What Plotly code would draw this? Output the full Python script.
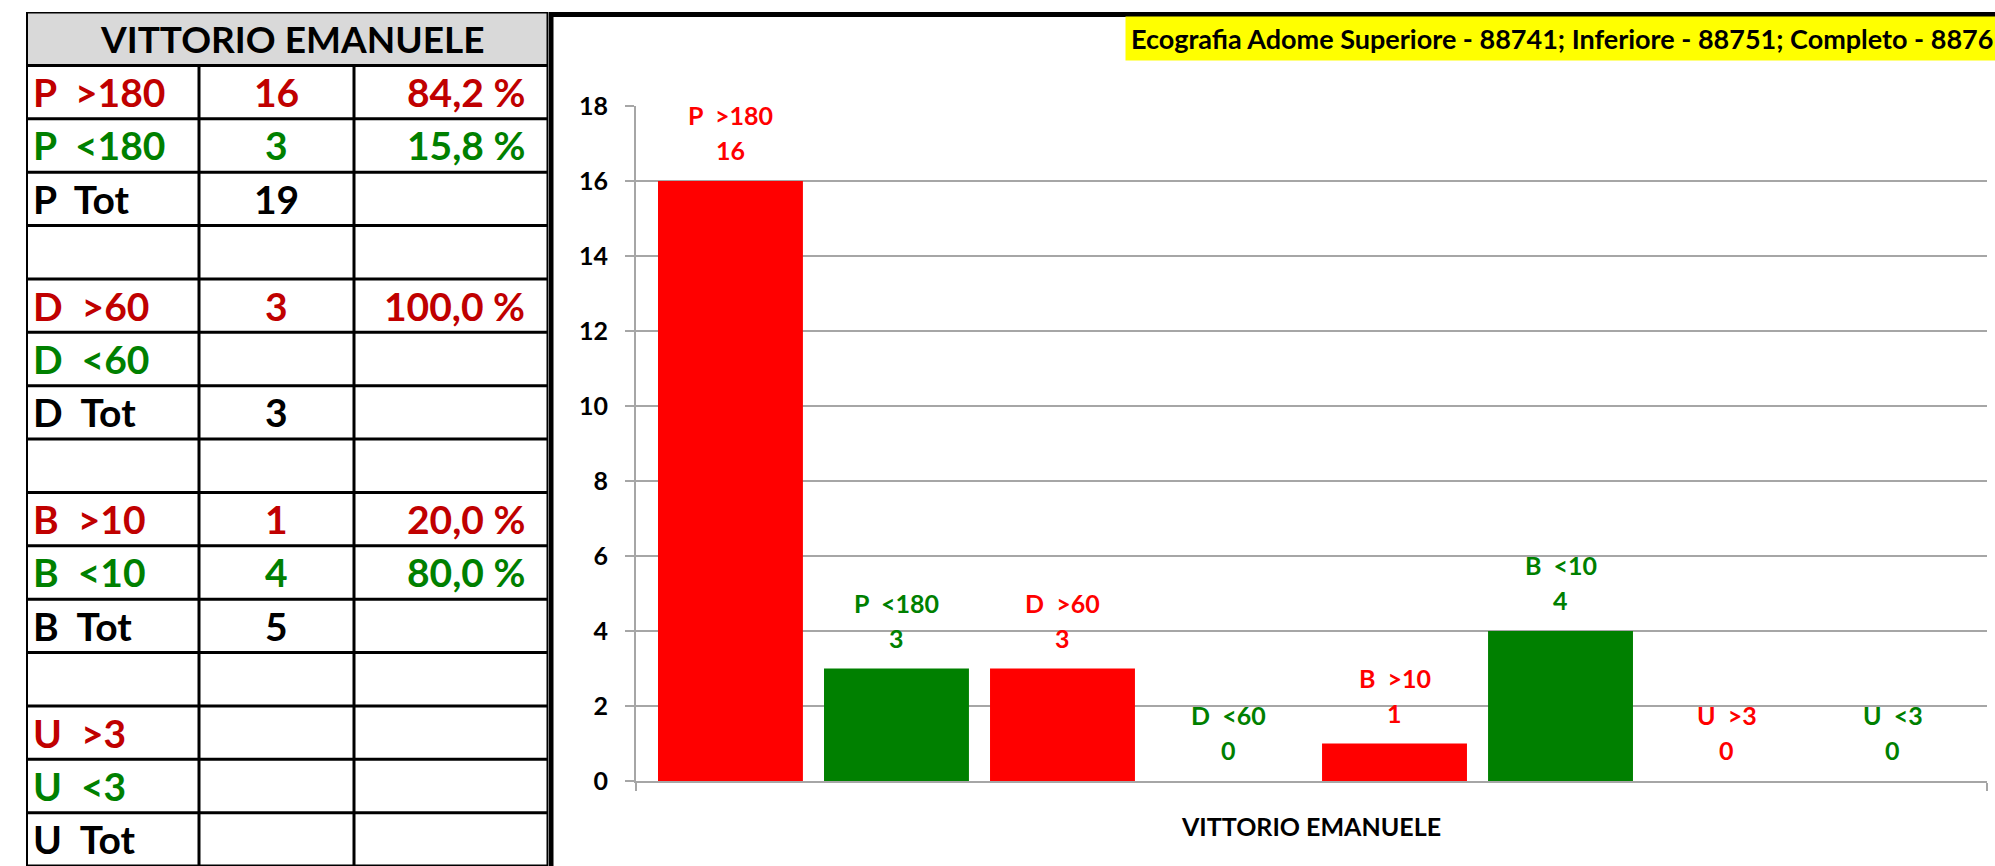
import plotly.graph_objects as go

W, H = 1995, 866

# ---- summary table (left) ----
table_title = "VITTORIO EMANUELE"
row_labels = ["P  >180", "P  <180", "P  Tot", "",
              "D  >60", "D  <60", "D  Tot", "",
              "B  >10", "B  <10", "B  Tot", "",
              "U  >3", "U  <3", "U  Tot"]
row_counts = ["16", "3", "19", "",
              "3", "", "3", "",
              "1", "4", "5", "",
              "", "", ""]
row_percents = ["84,2 %", "15,8 %", "", "",
                "100,0 %", "", "", "",
                "20,0 %", "80,0 %", "", "",
                "", "", ""]
row_kind = ["hi", "lo", "tot", "",
            "hi", "lo", "tot", "",
            "hi", "lo", "tot", "",
            "hi", "lo", "tot"]
col_widths = [173, 155, 194]

# ---- bar chart (right) ----
category = "VITTORIO EMANUELE"
chart_title = "Ecografia Adome Superiore - 88741; Inferiore - 88751; Completo - 8876"
series_names = ["P  >180", "P  <180", "D  >60", "D  <60",
                "B  >10", "B  <10", "U  >3", "U  <3"]
series_values = [16, 3, 3, 0, 1, 4, 0, 0]
series_kind = ["hi", "lo", "hi", "lo", "hi", "lo", "hi", "lo"]

TABLE_COL = {"hi": "#C00000", "lo": "#008000", "tot": "#000000", "": "#000000"}
BAR_COL = {"hi": "#FF0000", "lo": "#008000"}
GRID = "#A6A6A6"
FONT = "Lato"


def nb(s):
    return s.replace(" ", "\u00a0")


def px_x(v):
    return v / W


def px_y(v):
    return 1 - v / H


fig = go.Figure()

# ---- bars ----
xs = list(range(len(series_values)))
fig.add_trace(go.Bar(
    x=xs, y=series_values, width=0.873,
    marker=dict(color=[BAR_COL[k] for k in series_kind], line=dict(width=0)),
    hoverinfo="skip",
))

annotations = []
shapes = []
for i, (name, v, k) in enumerate(zip(series_names, series_values, series_kind)):
    lab_font = dict(family=FONT, size=25, weight="bold", color=BAR_COL[k])
    annotations.append(dict(x=i, y=v, xref="x", yref="y", showarrow=False,
                            text=str(v), yanchor="bottom", yshift=14,
                            font=lab_font))
    annotations.append(dict(x=i, y=v, xref="x", yref="y", showarrow=False,
                            text=nb(name), yanchor="bottom", yshift=49,
                            font=lab_font))

annotations.append(dict(
    x=px_x(1125), y=px_y(38.5), xref="paper", yref="paper",
    xanchor="left", yanchor="middle", showarrow=False,
    text=chart_title, bgcolor="#FFFF00", borderpad=5,
    font=dict(family=FONT, size=27, weight="bold", color="black"),
))

# chart area frame
shapes.append(dict(type="rect", xref="paper", yref="paper",
                   x0=px_x(551), x1=px_x(2100), y0=-0.2, y1=px_y(14.5),
                   line=dict(color="black", width=5), fillcolor="rgba(0,0,0,0)",
                   layer="below"))

# ---- table drawn on its own hidden axes: x in px-wide units, one unit per row ----
n_rows = len(row_labels)
col_edges = [0]
for w_ in col_widths:
    col_edges.append(col_edges[-1] + w_)
tw = col_edges[-1]

# header fill
shapes.append(dict(type="rect", xref="x2", yref="y2", x0=0, x1=tw, y0=-1, y1=0,
                   fillcolor="#D9D9D9", line=dict(width=0), layer="below"))
# horizontal rules
for r in range(-1, n_rows + 1):
    shapes.append(dict(type="line", xref="x2", yref="y2", x0=0, x1=tw, y0=r, y1=r,
                       line=dict(color="black", width=3)))
# vertical rules
for j, xe in enumerate(col_edges):
    outer = j in (0, len(col_edges) - 1)
    shapes.append(dict(type="line", xref="x2", yref="y2", x0=xe, x1=xe,
                       y0=-1 if outer else 0, y1=n_rows,
                       line=dict(color="black", width=4 if j == 0 else 3)))

cell_font = dict(family=FONT, size=39, weight="bold")
annotations.append(dict(x=tw / 2 + 5, y=-0.5, xref="x2", yref="y2", showarrow=False,
                        text=table_title, xanchor="center", yanchor="middle",
                        font=dict(family=FONT, size=37, weight="bold", color="black")))
for r, (lab, cnt, pct, k) in enumerate(zip(row_labels, row_counts, row_percents, row_kind)):
    col = TABLE_COL[k]
    if lab:
        annotations.append(dict(x=col_edges[0] + 5, y=r + 0.5, xref="x2", yref="y2",
                                showarrow=False, text=nb(lab), xanchor="left",
                                yanchor="middle", font=dict(cell_font, color=col)))
    if cnt:
        annotations.append(dict(x=(col_edges[1] + col_edges[2]) / 2, y=r + 0.5,
                                xref="x2", yref="y2", showarrow=False, text=cnt,
                                xanchor="center", yanchor="middle",
                                font=dict(cell_font, color=col)))
    if pct:
        annotations.append(dict(x=col_edges[3] - 21, y=r + 0.5, xref="x2", yref="y2",
                                showarrow=False, text=nb(pct), xanchor="right",
                                yanchor="middle", font=dict(cell_font, color=col)))

X0, X1 = -0.569, 7.569
fig.update_layout(
    width=W, height=H, margin=dict(l=0, r=0, t=0, b=0),
    paper_bgcolor="white", plot_bgcolor="white", showlegend=False,
    font=dict(family=FONT),
    annotations=annotations,
    shapes=shapes,
    xaxis=dict(domain=[px_x(636), px_x(1987)], range=[X0, X1], automargin=False,
               showgrid=False, zeroline=False,
               showline=True, linecolor=GRID, linewidth=2,
               tickmode="array", tickvals=[(X0 + X1) / 2], ticktext=[category],
               ticks="", ticklabelstandoff=23,
               tickfont=dict(family=FONT, size=25, weight="bold", color="black"),
               minor=dict(tickmode="array", tickvals=[X0, X1], ticks="outside",
                          ticklen=8, tickwidth=2, tickcolor=GRID)),
    yaxis=dict(domain=[px_y(781), px_y(106)], range=[0, 18], dtick=2, automargin=False,
               showgrid=True, gridcolor=GRID, gridwidth=2, zeroline=False,
               showline=True, linecolor=GRID, linewidth=2,
               ticks="outside", ticklen=9, tickwidth=2, tickcolor=GRID,
               ticklabelstandoff=12,
               tickfont=dict(family=FONT, size=25, weight="bold", color="black")),
    xaxis2=dict(domain=[px_x(26), px_x(548)], range=[0, tw], visible=False,
                fixedrange=True, anchor="y2", automargin=False),
    yaxis2=dict(domain=[0, px_y(12)], range=[n_rows, -1], visible=False,
                fixedrange=True, anchor="x2", automargin=False),
)

fig.write_html("out.html")
